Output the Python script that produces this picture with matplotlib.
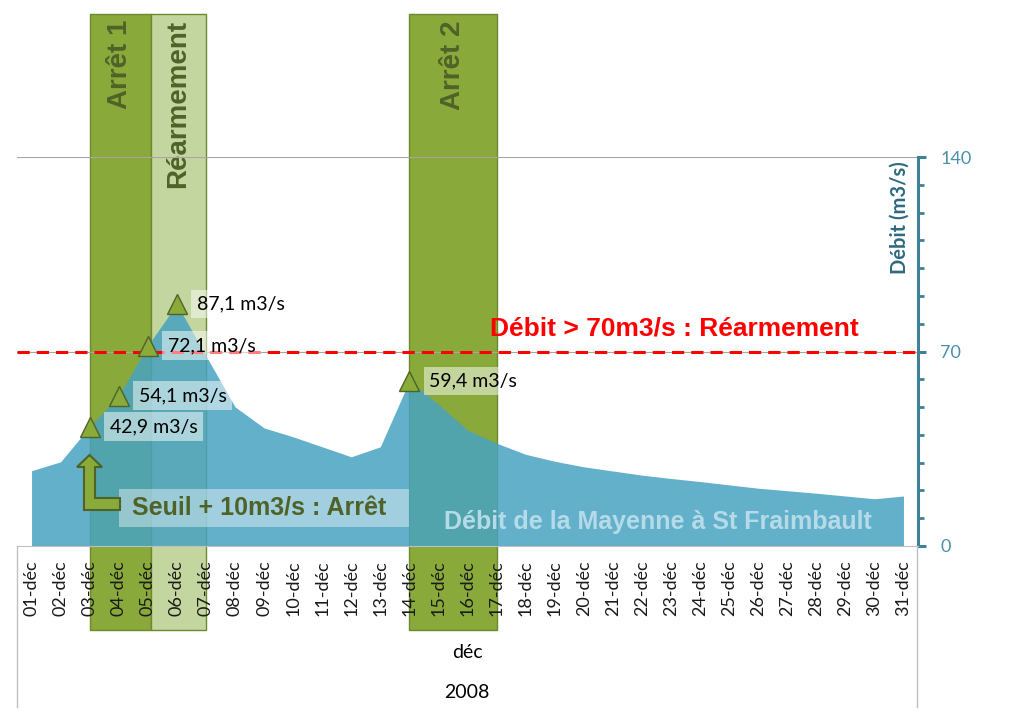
import matplotlib.pyplot as plt
from matplotlib.patches import Rectangle, Polygon
from matplotlib.lines import Line2D
from matplotlib.ticker import MultipleLocator

# Données : débit journalier de la Mayenne à St Fraimbault, décembre 2008
jours = list(range(1, 32))
etiquettes = [f"{j:02d}-déc" for j in jours]
debit = [27.1, 30.3, 42.9, 54.1, 72.1, 87.1, 68.5, 50.1, 42.5, 39.3,
         35.7, 32.1, 35.7, 59.4, 51.0, 41.7, 37.0, 33.0, 30.5, 28.5,
         27.0, 25.5, 24.3, 23.2, 22.0, 20.8, 19.9, 19.0, 18.0, 17.0, 18.0]
jours_marques = [3, 4, 5, 6, 14]
seuil_rearmement = 70

periodes = ['Arrêt 1', 'Réarmement', 'Arrêt 2']
periode_debut = [3, 5.1, 14]
periode_fin = [5.1, 7, 17]
periode_couleur = ['#89a93b', '#c4d69f', '#89a93b']

W, H = 1024, 715
plt.rcParams['font.family'] = ['Lato', 'DejaVu Sans']

fig = plt.figure(figsize=(W / 100, H / 100), dpi=100)


def fx(px):
    return px / W


def fy(py):
    return 1 - py / H


def val(py):
    # pixel vertical -> valeur de l'axe (0 a 546 px, 140 a 157 px)
    return (546 - py) * 140 / 389


ax = fig.add_axes([fx(17), fy(546), fx(918) - fx(17), fy(157) - fy(546)])
ax.set_xlim(0.5, 31.5)
ax.set_ylim(0, 140)

gras = ['Liberation Sans', 'DejaVu Sans']

# Bandes des periodes
for nom, d0, d1, c in zip(periodes, periode_debut, periode_fin, periode_couleur):
    ax.add_patch(Rectangle((d0, val(630)), d1 - d0, val(14) - val(630),
                           fc=c, ec='#6b8a2a', lw=1, clip_on=False, zorder=0.3))
    ax.text((d0 + d1) / 2, val(20), nom, rotation=90, ha='center', va='top',
            fontsize=20, fontweight='bold', color='#4f6228',
            family=gras, clip_on=False, zorder=0.4)

# Quadrillage
ax.axhline(140, color='#a6a6a6', lw=0.8, zorder=0.5)
ax.axhline(70, color='#a6a6a6', lw=0.8, zorder=0.5)

# Aire du debit
ax.fill_between(jours, debit, 0, color='#48a2c1', alpha=0.85, lw=0, zorder=1)

# Seuil de rearmement
ax.axhline(seuil_rearmement, color='red', lw=2.2, ls=(0, (4, 2.3)), zorder=3)

# Marqueurs et etiquettes
vals_marques = [debit[d - 1] for d in jours_marques]
ax.plot(jours_marques, vals_marques, '^', ms=14, mfc='#8aab3a', mec='#4f6228',
        mew=1, zorder=4, clip_on=False)
for d, v in zip(jours_marques, vals_marques):
    ax.annotate(f"{v:.1f}".replace('.', ',') + ' m3/s', (d, v), xytext=(20, 0),
                textcoords='offset pixels', ha='left', va='center', fontsize=14,
                bbox=dict(boxstyle='square,pad=0.3', fc='white', ec='none', alpha=0.5),
                zorder=5)

# Axes
for s in ['top', 'left']:
    ax.spines[s].set_visible(False)
ax.spines['right'].set_color('#3f8197')
ax.spines['right'].set_linewidth(2.2)
ax.spines['bottom'].set_color('#bfbfbf')
ax.spines['bottom'].set_linewidth(0.8)

ax.yaxis.tick_right()
ax.set_yticks([0, 70, 140])
ax.yaxis.set_minor_locator(MultipleLocator(10))
ax.tick_params(axis='y', which='major', length=6, width=2.2, color='#3f8197',
               labelcolor='#4a90a8', labelsize=13, pad=10)
ax.tick_params(axis='y', which='minor', length=4, width=2, color='#3f8197')
ax.set_xticks(jours, etiquettes, rotation=90, fontsize=13)
ax.tick_params(axis='x', length=0, pad=10, labelcolor='#1a1a1a')

# Cadre de l'axe des categories
for xp in [17, 917]:
    fig.add_artist(Line2D([fx(xp), fx(xp)], [fy(546), fy(707)],
                          color='#c0c0c0', lw=1, transform=fig.transFigure))

fig.text(fx(467), fy(652), 'déc', ha='center', va='center', fontsize=14)
fig.text(fx(467), fy(693), '2008', ha='center', va='center', fontsize=14)
fig.text(fx(900), fy(161), 'Débit (m3/s)', rotation=90, ha='center', va='top',
         fontsize=14.5, fontweight='bold', color='#2e6a80')

# Textes d'annotation
fig.text(fx(490), fy(328), 'Débit > 70m3/s : Réarmement', color='red',
         fontweight='bold', fontsize=19, ha='left', va='center', family=gras)
fig.text(fx(658), fy(522), 'Débit de la Mayenne à St Fraimbault', color='#b5dbe8',
         fontweight='bold', fontsize=18, ha='center', va='center', family=gras)

fig.add_artist(Rectangle((fx(119), fy(527)), fx(409) - fx(119), fy(489) - fy(527),
                         transform=fig.transFigure, fc='white', ec='none', alpha=0.4))
fig.text(fx(132), fy(508), 'Seuil + 10m3/s : Arrêt', color='#4f6228',
         fontweight='bold', fontsize=18, ha='left', va='center', family=gras)

# Fleche en L
fleche = [(89.5, 455), (102, 467), (95, 467), (95, 498), (120, 498), (120, 510),
          (84, 510), (84, 467), (77, 467)]
fig.add_artist(Polygon([(fx(x), fy(y)) for x, y in fleche], closed=True,
                       transform=fig.transFigure, fc='#8aab3a', ec='#4f6228', lw=1.5))

fig.savefig('out.png', dpi=100)
